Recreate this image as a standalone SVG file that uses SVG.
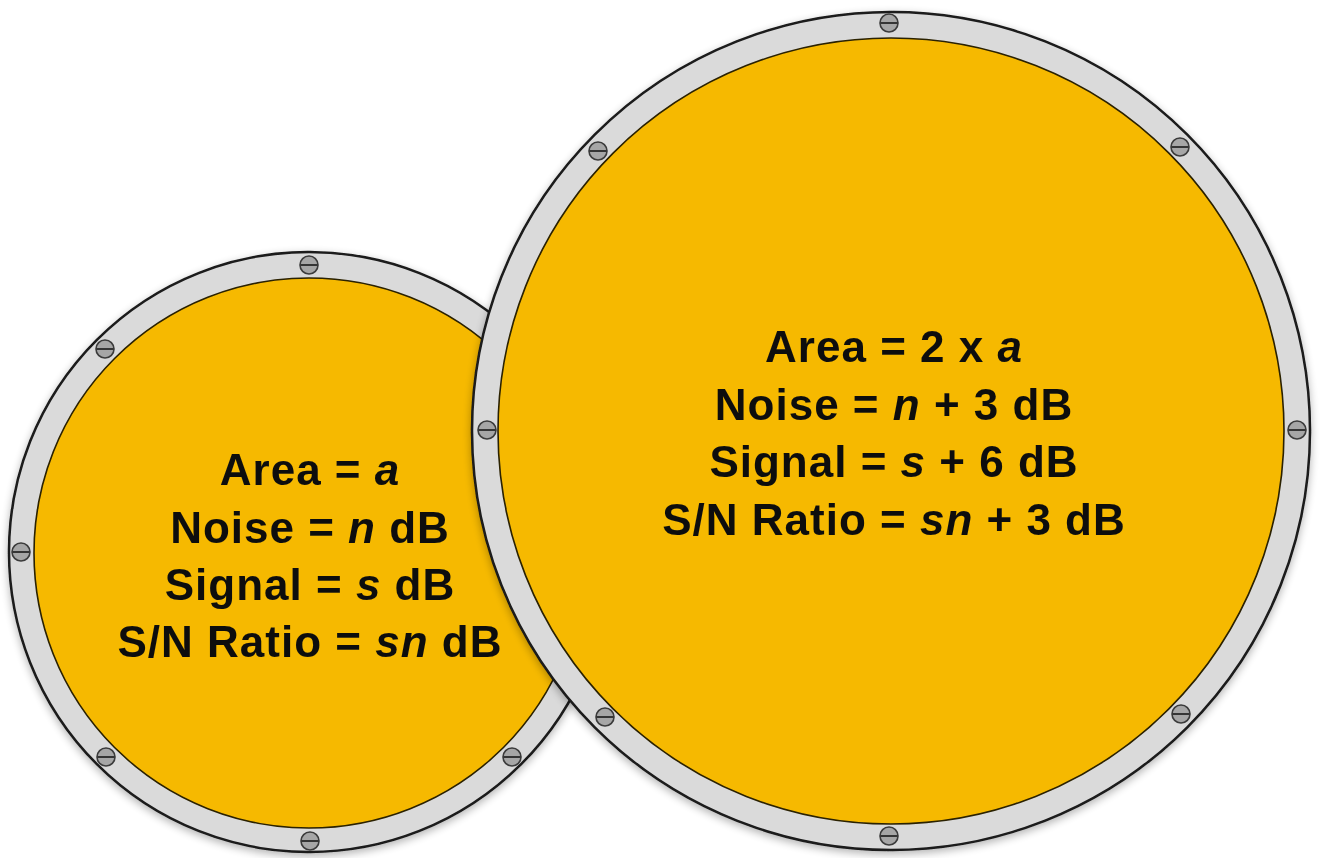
<svg xmlns="http://www.w3.org/2000/svg" width="1323" height="858" viewBox="0 0 1323 858">
<style>
.rim{fill:#dadada;stroke:#1a1a1a;stroke-width:2.5}
.face{fill:#f6b900;stroke:#2a2000;stroke-width:1.6}
.screw circle{fill:#a6a6a6;stroke:#3a3a3a;stroke-width:1.6}
.screw line{stroke:#2a2a2a;stroke-width:1.8}
.lbl{font-family:"Liberation Sans",Arial,sans-serif;font-size:44px;font-weight:bold;fill:#111;text-anchor:middle;letter-spacing:1px}
.i{font-style:italic}
</style>
<defs>
<filter id="sh" x="-10%" y="-10%" width="120%" height="120%">
<feGaussianBlur in="SourceAlpha" stdDeviation="4"/>
<feOffset dx="0" dy="3"/>
<feComponentTransfer><feFuncA type="linear" slope="0.3"/></feComponentTransfer>
<feMerge><feMergeNode/><feMergeNode in="SourceGraphic"/></feMerge>
</filter>
<g id="scr" class="screw"><circle r="9"/><line x1="-8.5" y1="0" x2="8.5" y2="0"/></g>
</defs>
<rect width="1323" height="858" fill="#ffffff"/>
<g id="small-port" filter="url(#sh)">
<circle class="rim" cx="309" cy="552" r="300"/>
<circle class="face" cx="309" cy="553" r="275"/>
<use href="#scr" x="309" y="265"/>
<use href="#scr" x="105" y="349"/>
<use href="#scr" x="21" y="552"/>
<use href="#scr" x="106" y="757"/>
<use href="#scr" x="310" y="841"/>
<use href="#scr" x="512" y="757"/>
<use href="#scr" x="513" y="349"/>
<text class="lbl"><tspan x="310" y="485">Area = <tspan class="i">a</tspan></tspan><tspan x="310" y="543">Noise = <tspan class="i">n</tspan> dB</tspan><tspan x="310" y="600">Signal = <tspan class="i">s</tspan> dB</tspan><tspan x="310" y="657">S/N Ratio = <tspan class="i">sn</tspan> dB</tspan></text>
</g>
<g id="large-port" filter="url(#sh)">
<circle class="rim" cx="891" cy="431" r="419"/>
<circle class="face" cx="891" cy="431" r="393"/>
<use href="#scr" x="889" y="23"/>
<use href="#scr" x="1180" y="147"/>
<use href="#scr" x="1297" y="430"/>
<use href="#scr" x="1181" y="714"/>
<use href="#scr" x="889" y="836"/>
<use href="#scr" x="605" y="717"/>
<use href="#scr" x="487" y="430"/>
<use href="#scr" x="598" y="151"/>
<text class="lbl"><tspan x="894" y="362">Area = 2 x <tspan class="i">a</tspan></tspan><tspan x="894" y="420">Noise = <tspan class="i">n</tspan> + 3 dB</tspan><tspan x="894" y="477">Signal = <tspan class="i">s</tspan> + 6 dB</tspan><tspan x="894" y="535">S/N Ratio = <tspan class="i">sn</tspan> + 3 dB</tspan></text>
</g>
</svg>
